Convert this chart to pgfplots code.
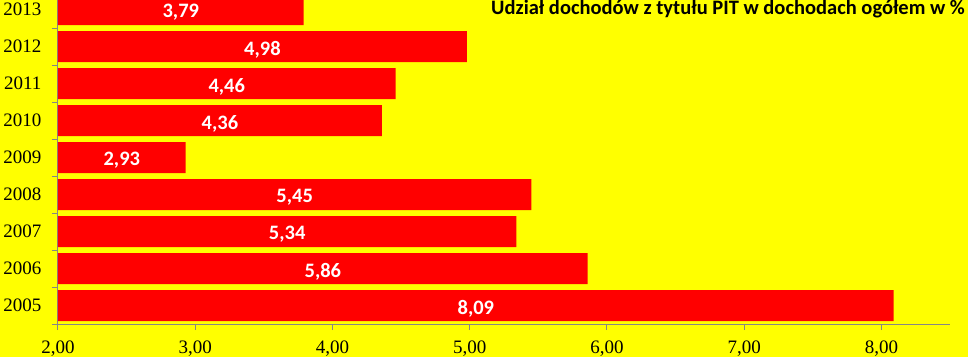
\documentclass[border=0pt]{standalone}
\usepackage{pgfplots}
\pgfplotsset{compat=1.18}
\usepackage{pgfplotstable}
\usepackage{fontspec}
\setmainfont{Liberation Serif}
\newfontfamily\calibri{Carlito}
\definecolor{axgray}{HTML}{868686}
\definecolor{bgyellow}{HTML}{FFFF00}
\definecolor{barred}{HTML}{FF0000}
\pgfplotstableread{
y v
0 8.09
1 5.86
2 5.34
3 5.45
4 2.93
5 4.36
6 4.46
7 4.98
8 3.79
}\datatable
\begin{document}
\begin{tikzpicture}[x=1pt,y=1pt]
\fill[bgyellow] (0,0) rectangle (968,357);
\useasboundingbox (0,0) rectangle (968,357);
\begin{axis}[
  at={(58pt,33pt)}, anchor=south west,
  scale only axis, width=892pt, height=333pt,
  xmin=2, xmax=8.5, ymin=-0.5, ymax=8.5,
  axis x line*=bottom, axis y line*=left,
  axis line style={axgray, line width=1pt},
  tick style={axgray, line width=1pt},
  tick align=outside, major tick length=6pt,
  xtick={2,3,4,5,6,7,8},
  ytick={-0.5,0.5,1.5,2.5,3.5,4.5,5.5,6.5,7.5,8.5},
  y tick label as interval,
  yticklabels={2005,2006,2007,2008,2009,2010,2011,2012,2013},
  /pgf/number format/use comma,
  /pgf/number format/fixed,
  /pgf/number format/fixed zerofill,
  /pgf/number format/precision=2,
  /pgf/number format/assume math mode=true,
  tick label style={font=\fontsize{19}{19}\selectfont, text=black},
  x tick label style={yshift=-7pt},
  y tick label style={xshift=-7pt},
]
\addplot[xbar, bar width=31pt, bar shift=0pt, fill=barred, draw=none] table[x=v, y=y] {\datatable};
\addplot[only marks, mark=none, point meta=explicit,
  nodes near coords,
  every node near coord/.append style={anchor=center, yshift=-3pt, text=white,
    font=\calibri\bfseries\fontsize{20.5}{20.5}\selectfont}]
  table[x expr={(\thisrow{v}+2)/2}, y=y, meta=v] {\datatable};
\end{axis}
\node[anchor=base east, inner sep=0pt, font=\calibri\bfseries\fontsize{20.5}{20.5}\selectfont] at (965,342) {Udział dochodów z tytułu PIT w dochodach ogółem w \%};
\end{tikzpicture}
\end{document}
